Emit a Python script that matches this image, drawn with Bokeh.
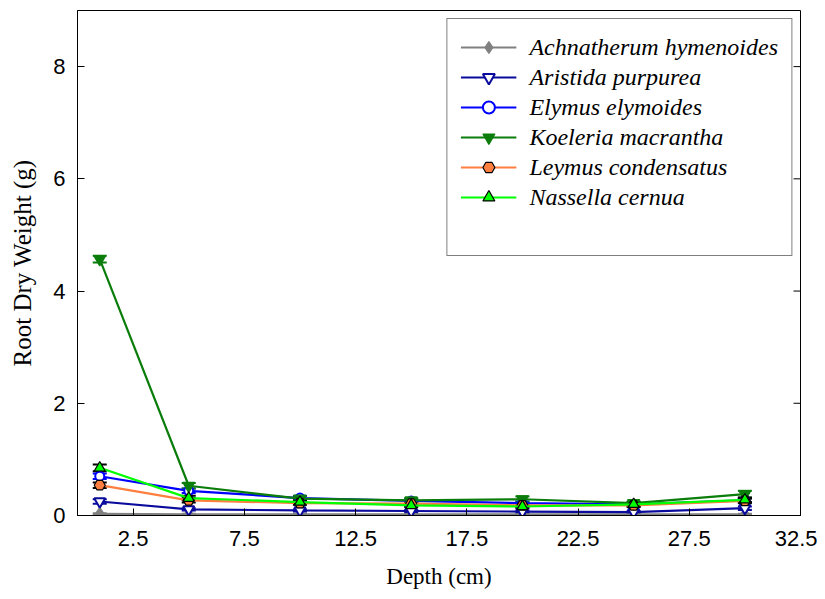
import math
from bokeh.plotting import figure
from bokeh.models import (Range1d, FixedTicker, Legend, LegendItem,
                          ColumnDataSource, Whisker, TeeHead)
from bokeh.embed import file_html
from bokeh.resources import INLINE

depth = [1, 5, 10, 15, 20, 25, 30]
species = ["Achnatherum hymenoides", "Aristida purpurea", "Elymus elymoides",
           "Koeleria macrantha", "Leymus condensatus", "Nassella cernua"]
achnatherum = [0.03, 0.02, 0.02, 0.02, 0.02, 0.02, 0.02]
aristida = [0.25, 0.11, 0.09, 0.08, 0.07, 0.06, 0.13]
elymus = [0.70, 0.44, 0.31, 0.26, 0.22, 0.20, 0.27]
koeleria = [4.57, 0.53, 0.30, 0.27, 0.29, 0.22, 0.38]
leymus = [0.54, 0.27, 0.22, 0.21, 0.18, 0.18, 0.26]
nassella = [0.85, 0.31, 0.24, 0.18, 0.16, 0.20, 0.28]
achnatherum_err = [0.01, 0.01, 0.01, 0.01, 0.01, 0.01, 0.01]
aristida_err = [0.04, 0.02, 0.02, 0.02, 0.02, 0.02, 0.03]
elymus_err = [0.05, 0.04, 0.04, 0.03, 0.03, 0.03, 0.04]
koeleria_err = [0.06, 0.05, 0.04, 0.04, 0.05, 0.03, 0.06]
leymus_err = [0.05, 0.04, 0.03, 0.03, 0.03, 0.03, 0.04]
nassella_err = [0.06, 0.04, 0.03, 0.03, 0.03, 0.03, 0.04]
x_ticks = [2.5, 7.5, 12.5, 17.5, 22.5, 27.5, 32.5]
y_ticks = [0, 2, 4, 6, 8]

series = [
    (achnatherum, achnatherum_err, "#808080", "diamond", "#808080", "#808080", 13, "#808080"),
    (aristida, aristida_err, "#0a0a9c", "inverted_triangle", "white", "#0a0a9c", 11, "#0a0a9c"),
    (elymus, elymus_err, "#0000ff", "circle", "white", "#0000ff", 9, "#0000ff"),
    (koeleria, koeleria_err, "#0b7d0b", "inverted_triangle", "#0b7d0b", "#0b7d0b", 12, "#0b7d0b"),
    (leymus, leymus_err, "#ff7f40", "hex", "#ff7f40", "black", 11, "black"),
    (nassella, nassella_err, "#00ff00", "triangle", "#00ff00", "black", 11, "black"),
]

SERIF = "'Liberation Serif', 'Times New Roman', Times, serif"

p = figure(width=817, height=591, output_backend="svg", toolbar_location=None,
           x_range=Range1d(0, 32.5), y_range=Range1d(0, 9),
           min_border_left=77, min_border_right=17, min_border_top=10, min_border_bottom=76)
p.xgrid.visible = False
p.ygrid.visible = False
p.outline_line_color = "black"
p.outline_line_width = 1
p.background_fill_color = "white"
p.border_fill_color = "white"

for ax, ticks in ((p.xaxis[0], x_ticks), (p.yaxis[0], y_ticks)):
    ax.ticker = FixedTicker(ticks=ticks, minor_ticks=[])
    ax.major_tick_in = 7
    ax.major_tick_out = 0
    ax.minor_tick_in = 0
    ax.minor_tick_out = 0
    ax.axis_line_color = "black"
    ax.major_tick_line_color = "black"
    ax.major_label_text_font = "Liberation Sans"
    ax.major_label_text_font_size = "22px"
    ax.major_label_text_color = "black"
    ax.axis_label_text_font = SERIF
    ax.axis_label_text_font_style = "normal"
    ax.axis_label_text_color = "black"

p.xaxis.axis_label = "Depth (cm)"
p.yaxis.axis_label = "Root Dry Weight (g)"
p.xaxis.axis_label_text_font_size = "23px"
p.yaxis.axis_label_text_font_size = "25px"
p.xaxis.major_label_standoff = 15
p.xaxis.axis_label_standoff = 15
p.yaxis.major_label_standoff = 12
p.yaxis.axis_label_standoff = 14

# mirrored inward ticks on the right edge
p.ray(x=[32.5] * len(y_ticks), y=y_ticks, length=7, length_units="screen",
      angle=math.pi, line_color="black", line_width=1)

items = []
for (vals, errs, lc, marker, fc, oc, sz, ec), name in zip(series, species):
    src = ColumnDataSource(dict(x=depth, y=vals,
                                lo=[v - e for v, e in zip(vals, errs)],
                                hi=[v + e for v, e in zip(vals, errs)]))
    w = Whisker(source=src, base="x", upper="hi", lower="lo", line_color=ec, line_width=1.5,
                upper_head=TeeHead(size=14, line_color=ec, line_width=2),
                lower_head=TeeHead(size=14, line_color=ec, line_width=2))
    p.add_layout(w)
    ln = p.line("x", "y", source=src, line_color=lc, line_width=2.2)
    mk = p.scatter("x", "y", source=src, marker=marker, size=sz, fill_color=fc,
                   line_color=oc, line_width=2 if fc == "white" else 1.2)
    items.append(LegendItem(label=name, renderers=[ln, mk]))

dummy = p.line([0], [0], line_alpha=0)
items.append(LegendItem(label=" ", renderers=[dummy]))

legend = Legend(items=items, location="top_right", margin=8, padding=13, spacing=0,
                label_height=30, glyph_height=30, glyph_width=56, label_standoff=13,
                label_text_font=SERIF, label_text_font_style="italic",
                label_text_font_size="24px", label_text_color="black",
                border_line_color="black", border_line_width=1,
                background_fill_color="white", background_fill_alpha=1)
p.add_layout(legend, "center")

open("out.html", "w").write(file_html(p, INLINE))
